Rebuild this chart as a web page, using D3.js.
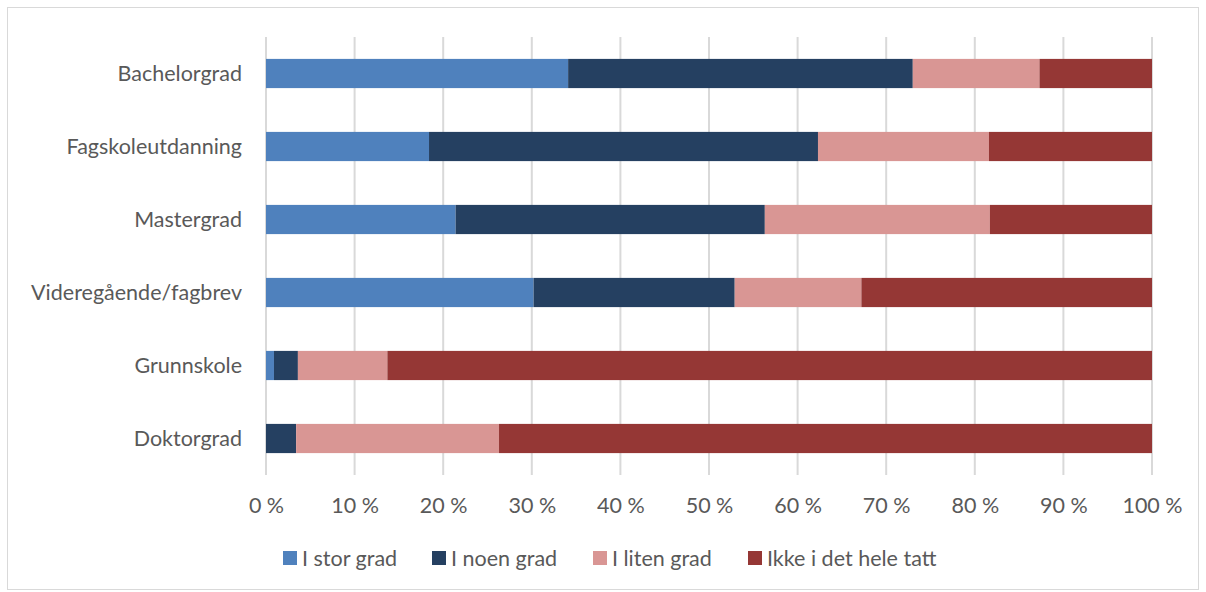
<!DOCTYPE html>
<html>
<head>
<meta charset="utf-8">
<script src="https://cdn.jsdelivr.net/npm/d3@7"></script>
<style>
  html, body { margin: 0; padding: 0; background: #fff; }
  svg { display: block; }
  text { font-family: Lato, "Open Sans", sans-serif; fill: #595959; }
</style>
</head>
<body>
<svg id="chart" width="1206" height="592"></svg>
<script>
// Education levels, top to bottom
const categories = ["Bachelorgrad", "Fagskoleutdanning", "Mastergrad", "Videregående/fagbrev", "Grunnskole", "Doktorgrad"];

// Share of respondents (%) per answer
const seriesNames = ["I stor grad", "I noen grad", "I liten grad", "Ikke i det hele tatt"];
const iStorGrad   = [34.1, 18.4, 21.4, 30.2, 0.9, 0.0];
const iNoenGrad   = [38.9, 43.9, 34.9, 22.7, 2.7, 3.4];
const iLitenGrad  = [14.3, 19.3, 25.4, 14.3, 10.1, 22.9];
const ikkeIDetHeleTatt = [12.7, 18.4, 18.3, 32.8, 86.3, 73.7];

const tickValues = [0, 10, 20, 30, 40, 50, 60, 70, 80, 90, 100];
const colors = ["#4f81bd", "#254061", "#d99694", "#953735"];

const rows = categories.map((c, i) => ({
  category: c,
  "I stor grad": iStorGrad[i],
  "I noen grad": iNoenGrad[i],
  "I liten grad": iLitenGrad[i],
  "Ikke i det hele tatt": ikkeIDetHeleTatt[i]
}));

const svg = d3.select("#chart");
const W = 1206, H = 592;
const FS = 21.5;

// outer frame
svg.append("rect")
  .attr("x", 7.5).attr("y", 7.5)
  .attr("width", W - 15).attr("height", H - 10)
  .attr("fill", "#fff").attr("stroke", "#d9d9d9").attr("stroke-width", 1);

const plot = { left: 266, right: 1152, top: 37, bottom: 475 };

const x = d3.scaleLinear().domain([0, 100]).range([plot.left, plot.right]);
const y = d3.scaleBand().domain(categories).range([plot.top, plot.bottom]).paddingInner(0.6).paddingOuter(0.3);

// vertical gridlines
svg.append("g").selectAll("line")
  .data(tickValues)
  .join("line")
  .attr("x1", d => x(d)).attr("x2", d => x(d))
  .attr("y1", plot.top).attr("y2", plot.bottom)
  .attr("stroke", "#d9d9d9").attr("stroke-width", 2);

// stacked bars
const stack = d3.stack().keys(seriesNames)(rows);
const color = d3.scaleOrdinal().domain(seriesNames).range(colors);

svg.append("g").selectAll("g")
  .data(stack)
  .join("g")
  .attr("fill", d => color(d.key))
  .selectAll("rect")
  .data(d => d)
  .join("rect")
  .attr("x", d => x(d[0]))
  .attr("width", d => Math.max(0, x(d[1]) - x(d[0])))
  .attr("y", d => y(d.data.category))
  .attr("height", y.bandwidth());

// category labels
svg.append("g").selectAll("text")
  .data(categories)
  .join("text")
  .attr("x", plot.left - 24)
  .attr("y", d => y(d) + y.bandwidth() / 2)
  .attr("dy", "0.35em")
  .attr("text-anchor", "end")
  .attr("font-size", FS)
  .text(d => d);

// x-axis tick labels
const xAxis = d3.axisBottom(x).tickValues(tickValues).tickFormat(d => d + " %").tickSize(0).tickPadding(0);
const gx = svg.append("g").attr("transform", `translate(0,${plot.bottom + 30})`).call(xAxis);
gx.select(".domain").remove();
gx.selectAll("text")
  .attr("font-size", FS)
  .attr("font-family", "Lato, 'Open Sans', sans-serif")
  .attr("fill", "#595959")
  .attr("dy", "0.35em")
  .attr("y", 0);

// legend
const legendX = [283, 432, 593, 748];
const legend = svg.append("g").selectAll("g")
  .data(seriesNames)
  .join("g")
  .attr("transform", (d, i) => `translate(${legendX[i]},551)`);
legend.append("rect")
  .attr("width", 14).attr("height", 14)
  .attr("fill", d => color(d));
legend.append("text")
  .attr("x", 19).attr("y", 7)
  .attr("dy", "0.35em")
  .attr("font-size", FS)
  .text(d => d);
</script>
</body>
</html>
